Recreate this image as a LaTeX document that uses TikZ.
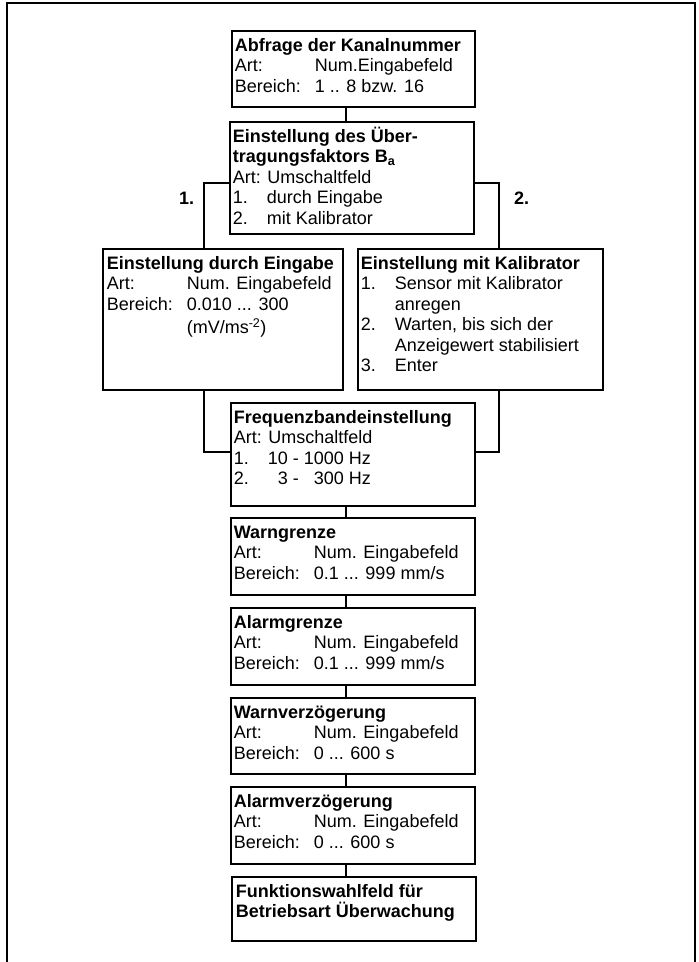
\documentclass[tikz,border=0pt]{standalone}
\usepackage{fontspec}
\setmainfont{Liberation Sans}
\usetikzlibrary{calc}
\tikzset{
  bx/.style={draw, line width=1.6pt, inner sep=0pt, anchor=north west, fill=white},
  conn/.style={line width=1.6pt},
  lbl/.style={font=\bfseries\fontsize{18}{20.5}\selectfont, inner sep=0pt, anchor=base west},
  frame/.style={line width=1.7pt}
}
\newcommand\bxt[4][3]{\parbox[t][#3pt][t]{#2pt}{\fontsize{18}{20.5}\selectfont\raggedright\leftskip=#1pt\parindent=0pt\rule{0pt}{20.5pt}#4}}
\newcommand\tabA[1]{\makebox[80pt][l]{#1}}
\newcommand\numI[1]{\makebox[34pt][l]{#1}}
\begin{document}
\begin{tikzpicture}[x=1pt,y=-1pt]
\useasboundingbox (0,0) rectangle (699,962);
\draw[frame] (7,962) -- (7,3) -- (695,3) -- (695,962);

\node[bx] (b1) at (231,30) {\bxt{243}{76}{{\bfseries Abfrage der Kanalnummer}\\\tabA{Art:}Num.Eingabefeld\\\tabA{Bereich:}1 .. 8 bzw. 16}};

\node[bx] (b2) at (229,121) {\bxt{244}{112}{{\bfseries Einstellung des Über-\\tragungsfaktors B\textsubscript{a}}\\Art: Umschaltfeld\\\numI{1.}durch Eingabe\\\numI{2.}mit Kalibrator}};

\node[bx] (lb) at (102,248) {\bxt[4]{240}{141}{{\bfseries Einstellung durch Eingabe}\\\tabA{Art:}Num. Eingabefeld\\\tabA{Bereich:}0.010 ... 300\\[3pt]\hspace*{80pt}(mV/ms\textsuperscript{-2})}};

\node[bx] (rb) at (357,248) {\bxt{245}{141}{{\bfseries Einstellung mit Kalibrator}\\\numI{1.}Sensor mit Kalibrator\\\hspace*{34pt}anregen\\\numI{2.}Warten, bis sich der\\\hspace*{34pt}Anzeigewert stabilisiert\\\numI{3.}Enter}};

\node[bx] (fq) at (230,402) {\bxt{244}{103}{{\bfseries Frequenzbandeinstellung}\\Art: Umschaltfeld\\\numI{1.}10 - 1000 Hz\\\numI{2.}\makebox[20pt][r]{3} - \makebox[40pt][r]{300} Hz}};

\node[bx] (wg) at (230,517) {\bxt{244}{77}{{\bfseries Warngrenze}\\\tabA{Art:}Num. Eingabefeld\\\tabA{Bereich:}0.1 ... 999 mm/s}};

\node[bx] (ag) at (230,607) {\bxt{244}{77}{{\bfseries Alarmgrenze}\\\tabA{Art:}Num. Eingabefeld\\\tabA{Bereich:}0.1 ... 999 mm/s}};

\node[bx] (wv) at (230,697) {\bxt{244}{76}{{\bfseries Warnverzögerung}\\\tabA{Art:}Num. Eingabefeld\\\tabA{Bereich:}0 ... 600 s}};

\node[bx] (av) at (230,786) {\bxt{244}{77}{{\bfseries Alarmverzögerung}\\\tabA{Art:}Num. Eingabefeld\\\tabA{Bereich:}0 ... 600 s}};

\node[bx] (fw) at (231,876) {\bxt[4]{244}{64}{{\bfseries Funktionswahlfeld für\\Betriebsart Überwachung}}};

\node[lbl] (l1) at (179,204) {1.};
\node[lbl] (l2) at (514,204) {2.};

\coordinate (cx) at (346,0);
\coordinate (eL) at (204,183);
\coordinate (eR) at (499,183);
\coordinate (fL) at (204,452);
\coordinate (fR) at (499,452);

\draw[conn] (b1.south -| cx) -- (b2.north -| cx);
\draw[conn] (b2.west |- eL) -- (eL) -- (eL |- lb.north);
\draw[conn] (b2.east |- eR) -- (eR) -- (eR |- rb.north);
\draw[conn] (eL |- lb.south) -- (fL) -- (fq.west |- fL);
\draw[conn] (eR |- rb.south) -- (fR) -- (fq.east |- fR);
\draw[conn] (fq.south -| cx) -- (wg.north -| cx);
\draw[conn] (wg.south -| cx) -- (ag.north -| cx);
\draw[conn] (ag.south -| cx) -- (wv.north -| cx);
\draw[conn] (wv.south -| cx) -- (av.north -| cx);
\draw[conn] (av.south -| cx) -- (fw.north -| cx);
\end{tikzpicture}
\end{document}
